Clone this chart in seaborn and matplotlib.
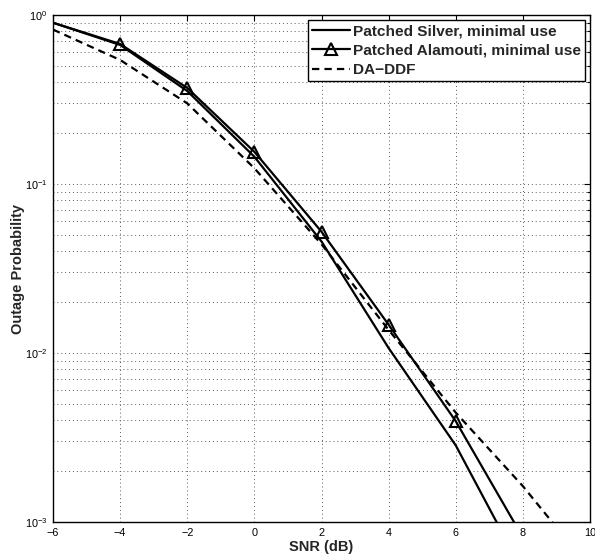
import numpy as np
import pandas as pd
import matplotlib
matplotlib.use("Agg")
import matplotlib.pyplot as plt
from matplotlib.ticker import LogLocator, NullFormatter, FixedLocator
import seaborn as sns

# Outage probability vs. SNR
snr = [-6, -4, -2, 0, 2, 4, 6, 8]
silver = [0.90, 0.665, 0.355, 0.145, 0.0457, 0.0107, 0.00284, 0.00051]
alamouti = [0.90, 0.674, 0.370, 0.155, 0.0522, 0.0147, 0.00395, 0.00081]
snr_ddf = [-6, -4, -2, 0, 2, 4, 6, 8, 9]
daddf = [0.82, 0.542, 0.300, 0.124, 0.044, 0.0137, 0.00444, 0.00163, 0.00093]

labels = ["Patched Silver, minimal use", "Patched Alamouti, minimal use", "DA\u2212DDF"]
x_ticks = [-6, -4, -2, 0, 2, 4, 6, 8, 10]

sns.set_theme(style="white")
plt.rcParams["font.family"] = ["Liberation Sans", "DejaVu Sans"]
plt.rcParams["axes.unicode_minus"] = True

fig = plt.figure(figsize=(5.95, 5.57), dpi=100)
ax = fig.add_axes([53 / 595, 1 - 522 / 557, (590 - 53) / 595, (522 - 15) / 557])

df_s = pd.DataFrame({"snr": snr, "p": silver})
df_a = pd.DataFrame({"snr": snr, "p": alamouti})
df_d = pd.DataFrame({"snr": snr_ddf, "p": daddf})

sns.lineplot(data=df_s, x="snr", y="p", ax=ax, color="black", lw=1.6, label=labels[0])
sns.lineplot(data=df_a, x="snr", y="p", ax=ax, color="black", lw=1.6, marker="^",
             markersize=8.5, markerfacecolor="none", markeredgecolor="black",
             markeredgewidth=1.5, markevery=slice(1, 7), label=labels[1])
sns.lineplot(data=df_d, x="snr", y="p", ax=ax, color="black", lw=1.6,
             linestyle=(0, (3.3, 2.3)), label=labels[2])

ax.set_yscale("log")
ax.set_xlim(-6, 10)
ax.set_ylim(1e-3, 1)
ax.xaxis.set_major_locator(FixedLocator(x_ticks))
ax.yaxis.set_major_locator(LogLocator(base=10, numticks=10))
ax.yaxis.set_minor_locator(LogLocator(base=10, subs=np.arange(2, 10), numticks=20))
ax.yaxis.set_minor_formatter(NullFormatter())

grid_kw = dict(color="0.35", linestyle=(0, (1, 3)), linewidth=0.7)
ax.grid(True, which="major", axis="both", **grid_kw)
ax.grid(True, which="minor", axis="y", **grid_kw)

for sp in ax.spines.values():
    sp.set_visible(True)
    sp.set_color("black")
    sp.set_linewidth(1.0)

ax.tick_params(which="both", direction="in", top=True, right=True, colors="black",
               labelsize=7.8, width=0.8)
ax.tick_params(which="major", length=4.5, pad=4)
ax.tick_params(which="minor", length=2.5)
ax.tick_params(axis="x", which="minor", bottom=False, top=False)

ax.set_xlabel("SNR (dB)", fontsize=10.5, fontweight="bold", labelpad=2)
ax.set_ylabel("Outage Probability", fontsize=10.5, fontweight="bold", labelpad=0)

leg = ax.legend(loc="upper right", prop={"weight": "bold", "size": 11.1},
                frameon=True, fancybox=False, framealpha=1, edgecolor="black",
                handlelength=2.5, handletextpad=0.15, labelspacing=0.36,
                borderpad=0.25, borderaxespad=0.35)
leg.get_frame().set_linewidth(1.0)

fig.savefig("out.png", dpi=100)
